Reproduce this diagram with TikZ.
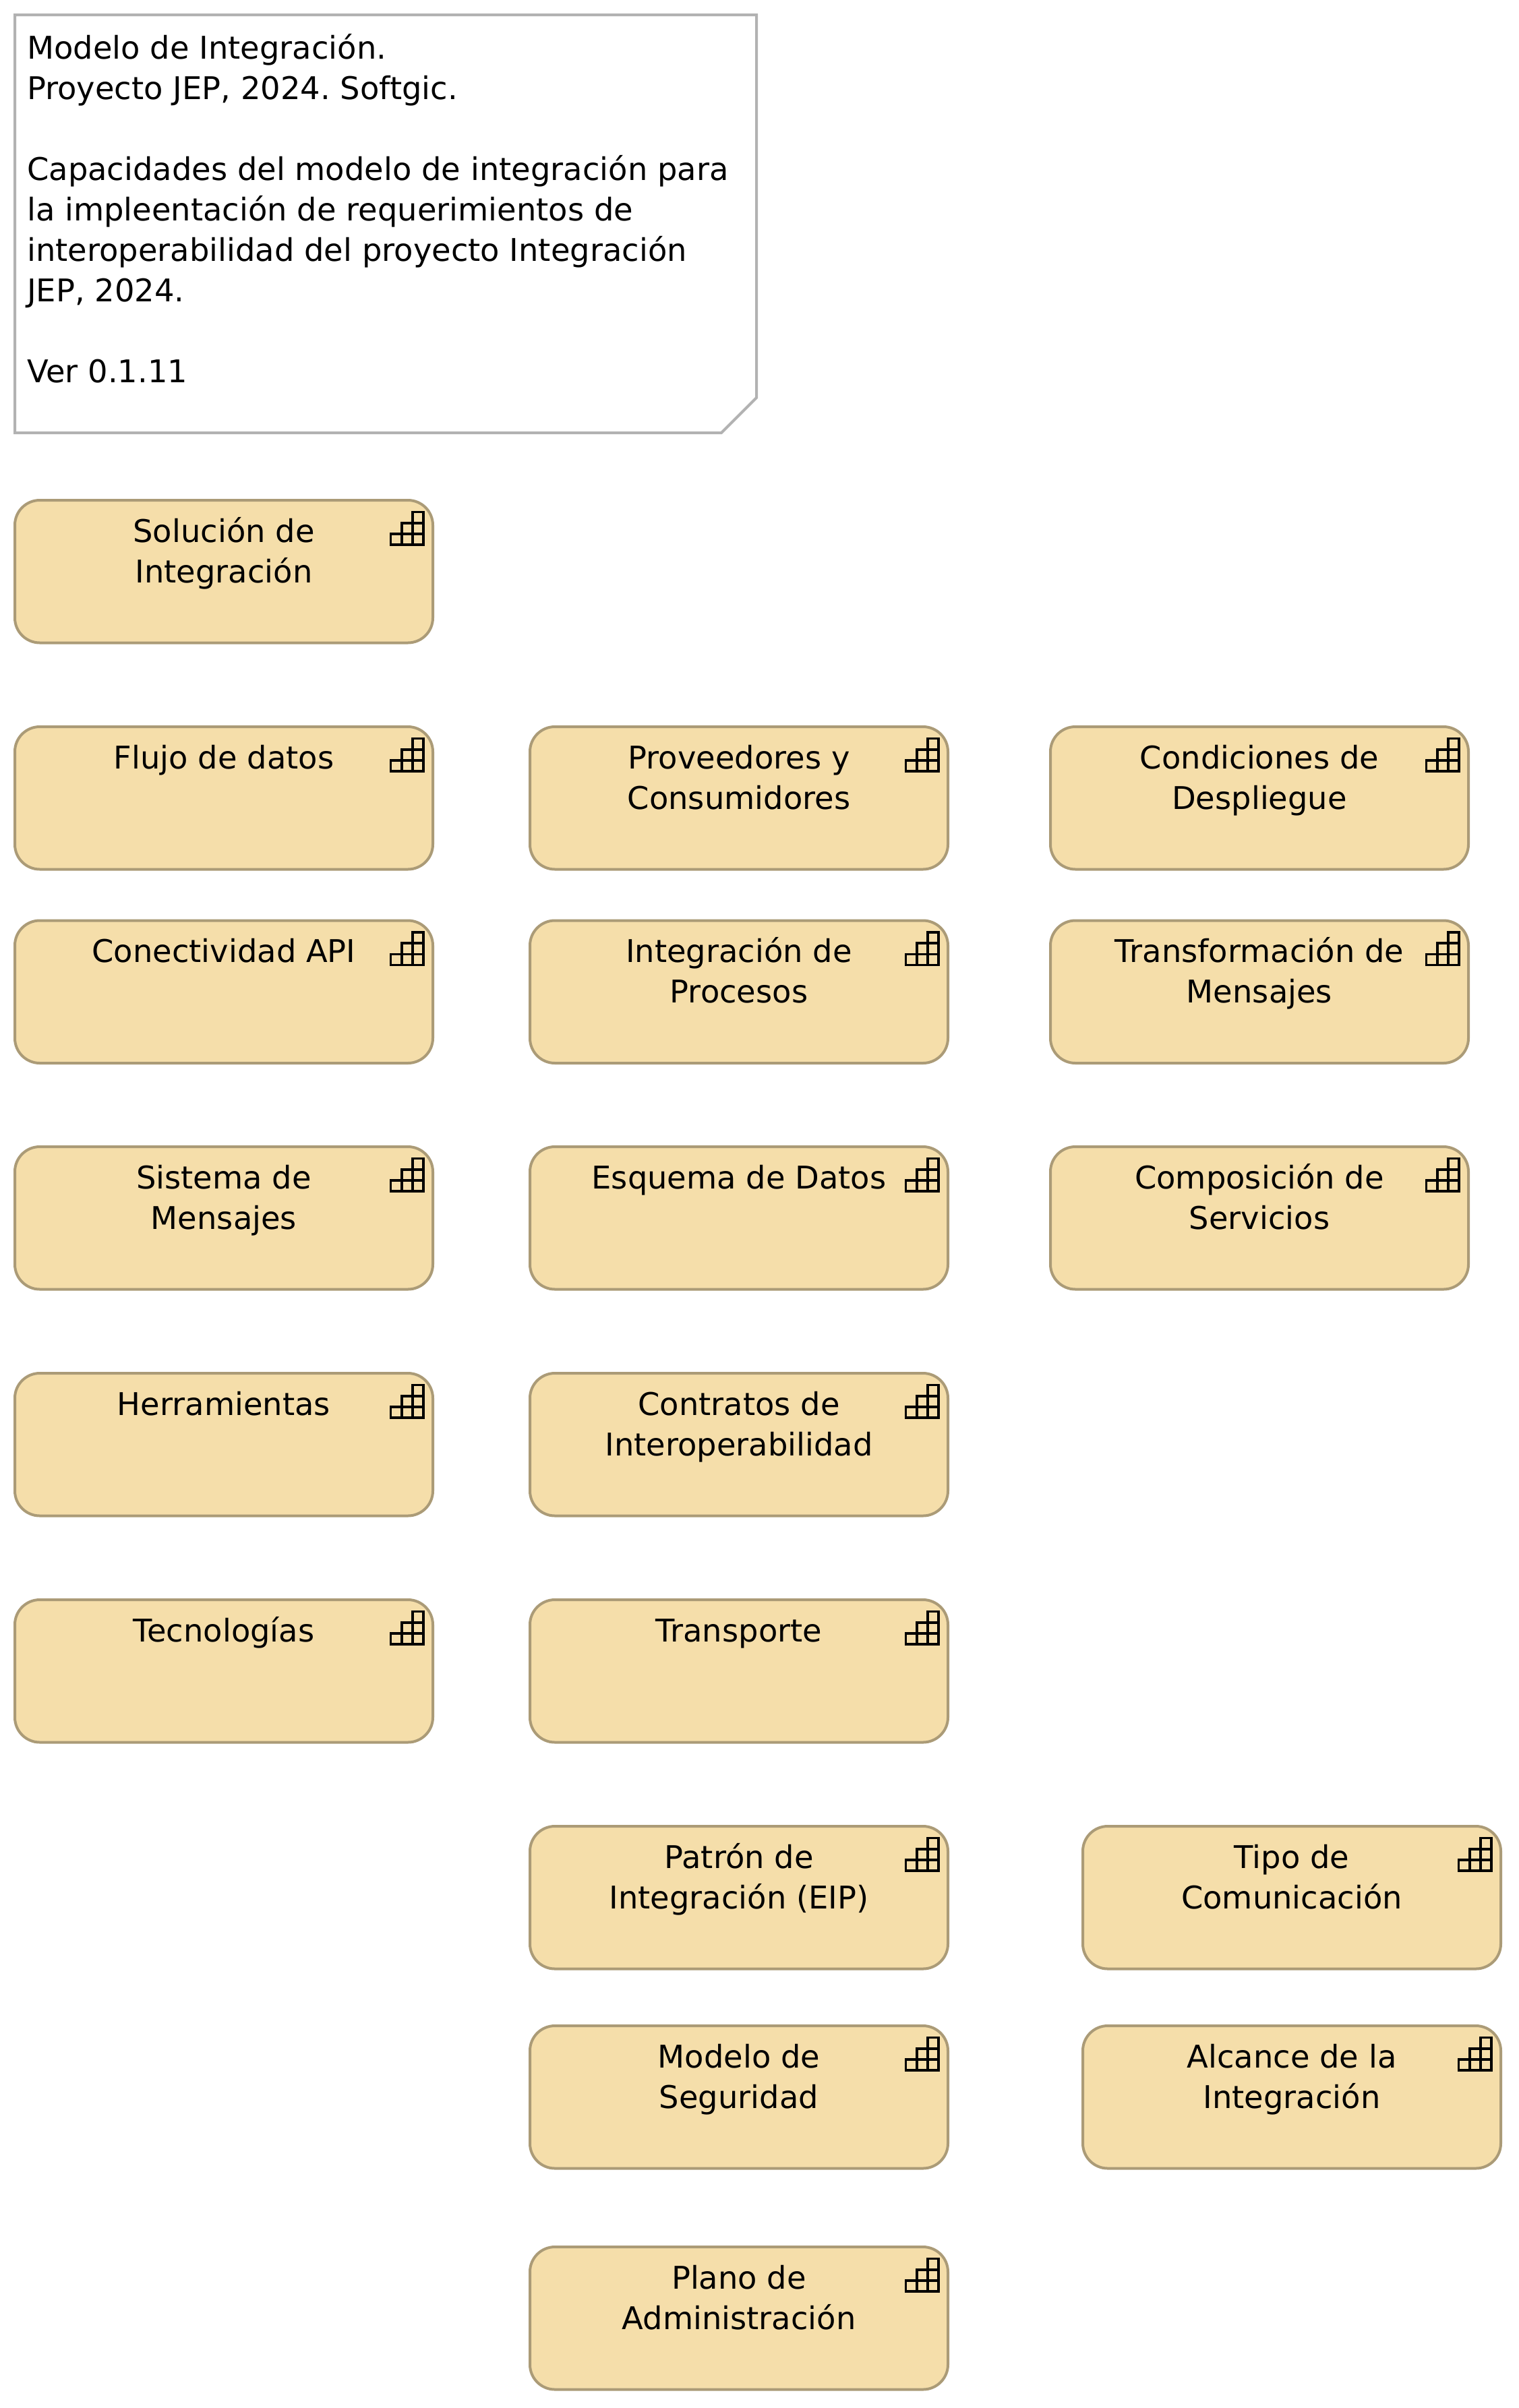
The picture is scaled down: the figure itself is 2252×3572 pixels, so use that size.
\documentclass[tikz,border=0pt]{standalone}
\usepackage{fontspec}
\setmainfont{DejaVu Sans}
\frenchspacing
\definecolor{capfill}{HTML}{F5DEAA}
\definecolor{capline}{HTML}{AB9B77}
\definecolor{noteline}{HTML}{B2B2B2}
\tikzset{
  capbox/.style={draw=capline,fill=capfill,line width=4pt,rounded corners=37pt,minimum width=620pt,minimum height=211.5pt,anchor=north west,inner sep=0pt,outer sep=0pt},
  captext/.style={anchor=north,align=center,inner sep=0pt,font=\fontsize{46.4}{60}\selectfont,text=black},
  notetext/.style={anchor=north west,align=left,inner sep=0pt,font=\fontsize{46.4}{60}\selectfont,text=black},
  capicon/.style={draw=black,line width=3.6pt,line join=miter}
}
\newcommand{\capnode}[4]{%
  \node[capbox] (#1) at (#2,#3) {};
  \node[captext] (#1text) at ([yshift=-20pt]#1.north) {\strut #4};
  \coordinate (#1i) at ([xshift=-62.5pt,yshift=-66pt]#1.north east);
  \draw[capicon] (#1i) -- ++(48.5,0) -- ++(0,-48.5) -- ++(-16.2,0) -- ++(0,16.2) -- ++(-16.1,0) -- ++(0,16.1) -- ++(-16.2,0) -- cycle
    (#1i) ++(16.2,0) -- ++(0,-16.2) -- ++(32.3,0)
    (#1i) ++(32.3,0) -- ++(0,-32.3) -- ++(16.2,0);
}
\begin{document}
\begin{tikzpicture}[x=1pt,y=-1pt]
\useasboundingbox (0,0) rectangle (2252,3572);
\draw[draw=noteline,fill=white,line width=4pt,line join=miter] (22,22) -- (1122,22) -- (1122,590) -- (1070,642) -- (22,642) -- cycle;
\node[notetext] (note) at (40,45) {\strut Modelo de Integración.\\Proyecto JEP, 2024. Softgic.\\ \\Capacidades del modelo de integración para\\la impleentación de requerimientos de\\interoperabilidad del proyecto Integración\\JEP, 2024.\\ \\Ver 0.1.11};
\capnode{sol}{22}{742}{Solución de\\Integración}
\capnode{flu}{22}{1078}{Flujo de datos}
\capnode{pro}{786}{1078}{Proveedores y\\Consumidores}
\capnode{con}{1558}{1078}{Condiciones de\\Despliegue}
\capnode{api}{22}{1365.5}{Conectividad API}
\capnode{ipr}{786}{1365.5}{Integración de\\Procesos}
\capnode{tra}{1558}{1365.5}{Transformación de\\Mensajes}
\capnode{sis}{22}{1701}{Sistema de\\Mensajes}
\capnode{esq}{786}{1701}{Esquema de Datos}
\capnode{com}{1558}{1701}{Composición de\\Servicios}
\capnode{her}{22}{2037}{Herramientas}
\capnode{ctr}{786}{2037}{Contratos de\\Interoperabilidad}
\capnode{tec}{22}{2373}{Tecnologías}
\capnode{tsp}{786}{2373}{Transporte}
\capnode{pat}{786}{2709}{Patrón de\\Integración (EIP)}
\capnode{tip}{1606}{2709}{Tipo de\\Comunicación}
\capnode{mod}{786}{3005}{Modelo de\\Seguridad}
\capnode{alc}{1606}{3005}{Alcance de la\\Integración}
\capnode{pla}{786}{3333}{Plano de\\Administración}
\end{tikzpicture}
\end{document}
